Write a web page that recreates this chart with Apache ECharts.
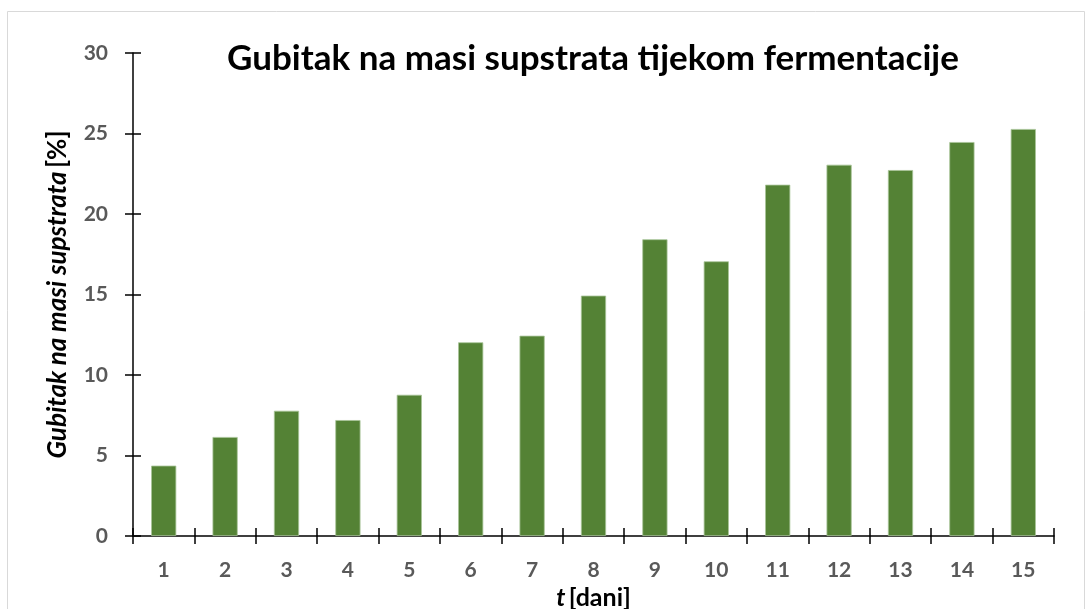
<!DOCTYPE html>
<html>
<head>
<meta charset="utf-8">
<script src="https://cdn.jsdelivr.net/npm/echarts@6/dist/echarts.min.js"></script>
<style>html,body{margin:0;padding:0;background:#fff;}#c{width:1090px;height:609px;}</style>
</head>
<body>
<div id="c"></div>
<script>
const categories = ['1','2','3','4','5','6','7','8','9','10','11','12','13','14','15'];
const lossValues = [4.37, 6.15, 7.78, 7.2, 8.77, 12.03, 12.44, 14.93, 18.43, 17.06, 21.82, 23.06, 22.73, 24.47, 25.28];
const yTicks = [0, 5, 10, 15, 20, 25, 30];

const chart = echarts.init(document.getElementById('c'));
const FONT = 'Lato';
const grid = {left: 133, right: 36, top: 53, bottom: 73, containLabel: false, outerBoundsMode: 'none'};
chart.setOption({
  animation: false,
  backgroundColor: '#fff',
  graphic: [{
    type: 'rect', shape: {x: 7.5, y: 11.5, width: 1077, height: 610},
    style: {fill: 'none', stroke: '#d9d9d9', lineWidth: 1}, silent: true
  }],
  title: {
    text: 'Gubitak na masi supstrata tijekom fermentacije',
    left: 588, top: 36, textAlign: 'center',
    textStyle: {fontFamily: FONT, fontWeight: 'bold', fontSize: 35, color: '#000'}
  },
  grid: grid,
  xAxis: [{
    type: 'category', data: categories,
    axisLine: {lineStyle: {color: '#000', width: 1.5}},
    axisTick: {show: true, inside: false, length: 8, lineStyle: {color: '#000', width: 1.5}},
    axisLabel: {fontFamily: FONT, fontWeight: 'bold', fontSize: 21, color: '#595959', margin: 24},
    name: '{i|t} {n|[dani]}', nameLocation: 'middle', nameGap: 38,
    nameTextStyle: {rich: {
      i: {fontFamily: FONT, fontStyle: 'italic', fontWeight: 'bold', fontSize: 25, color: '#000'},
      n: {fontFamily: FONT, fontWeight: 'bold', fontSize: 25, color: '#000'}
    }}
  }, {
    type: 'category', data: categories, position: 'bottom',
    axisLine: {show: false},
    axisTick: {show: true, inside: true, length: 8, lineStyle: {color: '#000', width: 1.5}},
    axisLabel: {show: false}
  }],
  yAxis: [{
    type: 'value', min: yTicks[0], max: yTicks[yTicks.length - 1], interval: 5,
    splitLine: {show: false},
    axisLine: {show: true, lineStyle: {color: '#000', width: 1.5}},
    axisTick: {show: true, inside: false, length: 8, lineStyle: {color: '#000', width: 1.5}},
    axisLabel: {fontFamily: FONT, fontWeight: 'bold', fontSize: 21, color: '#595959', margin: 25},
    name: '{i|Gubitak na masi supstrata} {n|[%]}', nameLocation: 'middle', nameGap: 62, nameRotate: 90,
    nameTextStyle: {rich: {
      i: {fontFamily: FONT, fontStyle: 'italic', fontWeight: 'bold', fontSize: 26, color: '#000'},
      n: {fontFamily: FONT, fontWeight: 'bold', fontSize: 26, color: '#000'}
    }}
  }, {
    type: 'value', min: yTicks[0], max: yTicks[yTicks.length - 1], interval: 5, position: 'left',
    splitLine: {show: false},
    axisLine: {show: false},
    axisTick: {show: true, inside: true, length: 8, lineStyle: {color: '#000', width: 1.5}},
    axisLabel: {show: false}
  }],
  series: [{
    type: 'bar', data: lossValues, xAxisIndex: 0, yAxisIndex: 0,
    barCategoryGap: '59%',
    itemStyle: {color: '#548235', borderColor: '#a8c498', borderWidth: 0.8}
  }]
});
</script>
</body>
</html>
